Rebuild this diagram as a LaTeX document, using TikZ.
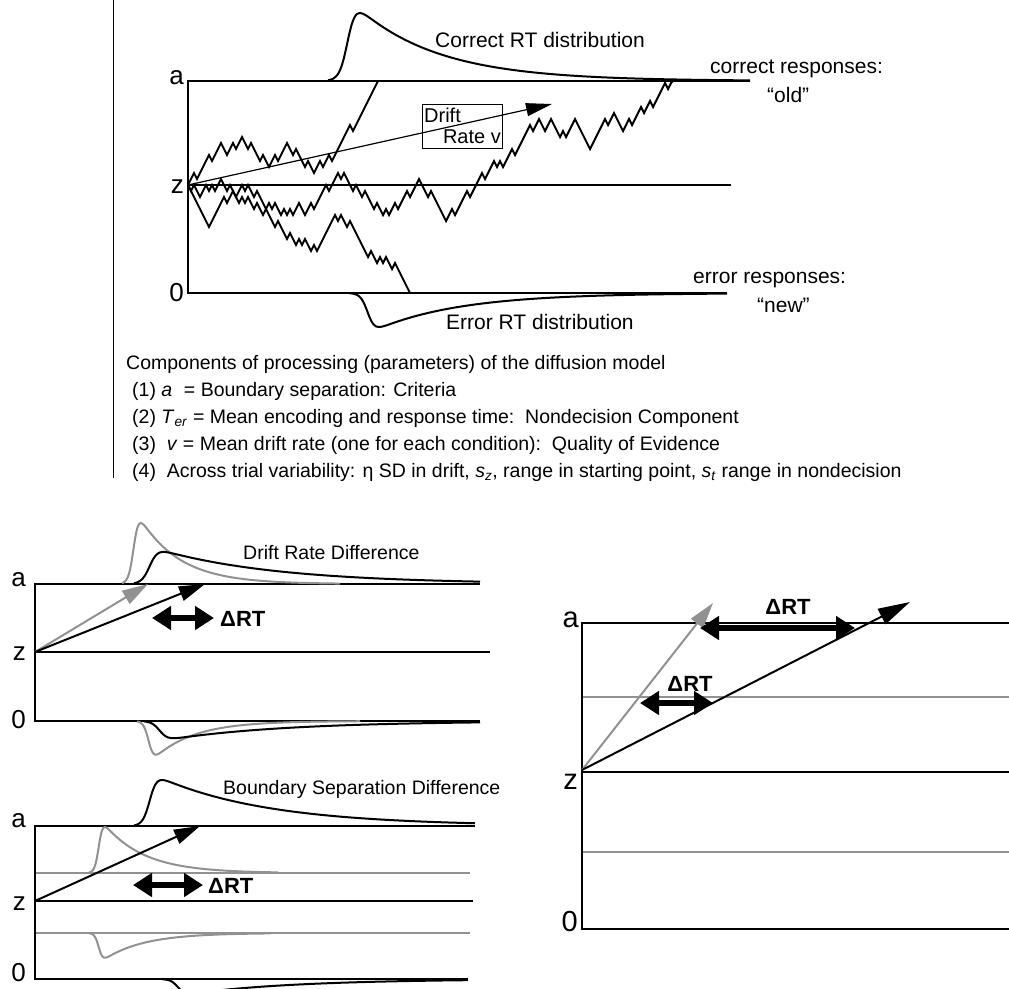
\documentclass[tikz,border=0pt]{standalone}
\usepackage{fontspec}
\setmainfont{Liberation Sans}
\usetikzlibrary{arrows.meta}
\definecolor{lgray}{RGB}{145,145,145}
\newcommand\rtdist[9][]{\draw[dist,#1] plot[domain=#8:#9,samples=160,smooth] (\x,{#3-(#4)*exp(-(\x-(#2))/(#7))/(1+exp(-(\x-(#2)-(#5))/(#6)))});}
\begin{document}
\begin{tikzpicture}[x=1pt,y=-1pt,
  bound/.style={line width=2pt},
  gline/.style={line width=2pt,draw=lgray},
  walk/.style={line width=2pt,line join=miter},
  dist/.style={line width=2pt},
  lbl/.style={inner sep=0pt,anchor=east,font=\fontsize{26}{26}\selectfont},
  rlbl/.style={inner sep=0pt,anchor=east,font=\fontsize{29}{29}\selectfont},
  ttxt/.style={inner sep=0pt,font=\fontsize{21}{24}\selectfont},
  btxt/.style={inner sep=0pt,anchor=base west,font=\fontsize{19.5}{22}\selectfont},
  ptxt/.style={inner sep=0pt,font=\fontsize{19.5}{22}\selectfont},
  drtxt/.style={inner sep=0pt,font=\fontsize{22}{22}\selectfont\bfseries},
  drt/.style={line width=5.5pt,{Triangle[length=19pt,width=23pt]}-{Triangle[length=19pt,width=23pt]}},
  varrow/.style={line width=2pt,-{Triangle[length=26pt,width=15pt]}},
  thinarrow/.style={line width=1.2pt,-{Triangle[length=26pt,width=13pt]}}]
\useasboundingbox (0,0) rectangle (1009,988);
\clip (0,0) rectangle (1009,988);

% ---------------- top diagram ----------------
\draw[line width=1pt] (113,0) -- (113,478);
\coordinate (ta) at (188,81);
\coordinate (tz) at (188,185);
\coordinate (t0) at (188,293);
\draw[bound] (750,81) -- (ta) -- (t0) -- (727,293);
\draw[bound] (tz) -- (731,185);
\node[lbl] (la) at (184,78) {a};
\node[lbl] (lz) at (184,187) {z};
\node[lbl] (l0) at (184,293) {0};

\rtdist{334}{81}{98}{14}{4}{82}{328}{750}
\rtdist{356}{293}{-46.5}{12}{3.5}{85}{350}{727}

\node[ttxt,anchor=base west] (crt) at (435,47) {Correct RT distribution};
\node[ttxt,anchor=base west] (ert) at (446,329) {Error RT distribution};
\node[ttxt,anchor=base west] (cr1) at (710,73) {correct responses:};
\node[ttxt,anchor=base west] (cr2) at (767,102) {“old”};
\node[ttxt,anchor=base west] (er1) at (693,283) {error responses:};
\node[ttxt,anchor=base west] (er2) at (757,312) {“new”};

% random walks
\draw[walk] (tz) \foreach \d in {-6,-6,6,-6,-6,-6,-6,6,-6,-6, -6,6,6,-6,-6,6,-6,-6, 6,6,-6,6,6,6,-6,6,6, -6,-6,6,-6,-6,-6, 6,6,-6,6,6,6,-6,6,6, -6,-6,6,-6,-6,6,-6,-6, -6,-6,-6,-6,6,-6,-6,-6,-6,-6,-6,-6} { -- ++(3,\d) } -- (378,81);
\draw[walk] (tz) \foreach \d in {6,-6,6,6,-6,-6,6,-6,6,-6,-6,6,6,-6,6,6,-6,-6,6,-6,6,6,-6,6, 6,6,-6,6,-6,6,6,-6,6,-6,6,-6, -6,6,6,-6,-6,6, -6,-6,-6,-6,6,-6,-6,-6, 6,-6,6,6,6,-6,6,6,-6,6,6,6,-6,6,6,-6,6, -6,-6,6,-6,-6,-6,6,-6,-6,-6,6, 6,6,-6,6,6,6,6,6, -6,-6,6,-6,-6,-6,-6,6,-6,-6, -6,-6,6,-6,-6,-6,6,-6,6,-6,-6,-6,6,-6,-6, -6,-6,-6,6,-6,-6,6,6,-6,-6,6,6,6,-6,6,-6,-6,-6,6,6,6,6,6,-6,-6,-6,-6,-6,6,-6,-6,6,6, 6,-6,-6,6,-6,-6,-6,6,-6,-6,6,-6,-6,-6,-6,6,-6} { -- ++(3,\d) } -- (673,81);
\draw[walk] (tz) \foreach \d in {6,6,6,6,6,6,6, -6,-6,-6,-6,-6, 6,-6,-6,6,6,-6,6,-6,6,6,-6, 6,6,-6,6,6,6,-6,6,6, 6,-6,6,6,-6,6,-6,6,6,-6,6, -6,-6,-6,-6,-6,-6, 6,-6,6,6,-6, 6,6,6,6,6, 6,-6,6,6,-6,6,-6,6,6, -6, 6,6,6,6,6} { -- ++(3,\d) };

\coordinate (tdrift) at (552,104);
\draw[thinarrow] (tz) -- (tdrift);
\node[draw,line width=1.2pt,fill=none,minimum width=80pt,minimum height=44pt,anchor=north west,inner sep=0pt] (box) at (422,104) {};
\node[ttxt,anchor=west,font=\fontsize{20}{20}\selectfont] (dr1) at (424,115) {Drift};
\node[ttxt,anchor=east,font=\fontsize{20}{20}\selectfont] (dr2) at (501,137) {Rate v};

% text block
\node[btxt] (c0) at (126,369) {Components of processing (parameters) of the diffusion model};
\node[btxt] (c1) at (132,396) {(1) \textit{a}\hspace{0.6em}= Boundary separation: Criteria};
\node[btxt] (c2) at (132,423) {(2) \textit{T}\textsubscript{\textit{er}} = Mean encoding and response time:\ \ Nondecision Component};
\node[btxt] (c3) at (132,450) {(3)\ \ \textit{v} = Mean drift rate (one for each condition):\ \ Quality of Evidence};
\node[btxt] (c4) at (132,477) {(4)\ \ Across trial variability: η SD in drift, \textit{s}\textsubscript{\textit{z}}, range in starting point, \textit{s}\textsubscript{\textit{t}} range in nondecision};

% ---------------- panel 1: drift rate difference ----------------
\coordinate (p1a) at (35,584);
\coordinate (p1z) at (35,652);
\coordinate (p10) at (35,721);
\draw[bound] (480,584) -- (p1a) -- (p10) -- (480,721);
\draw[bound] (p1z) -- (490,652);
\node[lbl] (p1la) at (26,580) {a};
\node[lbl] (p1lz) at (26,654) {z};
\node[lbl] (p1l0) at (26,720) {0};
\rtdist[draw=lgray]{126}{584}{94}{8}{2.5}{40}{122}{340}
\rtdist{138}{584}{41}{12}{4}{120}{134}{480}
\rtdist[draw=lgray]{141}{721}{-52}{8}{2.5}{40}{137}{360}
\rtdist{148}{721}{-22}{12}{4}{120}{144}{480}
\coordinate (p1g) at (148,584);
\coordinate (p1b) at (205,584);
\draw[varrow,draw=lgray,fill=lgray] (p1z) -- (p1g);
\draw[varrow] (p1z) -- (p1b);
\coordinate (d1l) at (152,618);
\coordinate (d1r) at (214,618);
\draw[drt] (d1l) -- (d1r);
\node[drtxt,anchor=west] (d1t) at (220,619) {ΔRT};
\node[ptxt,anchor=base west] (p1t) at (243,559) {Drift Rate Difference};

% ---------------- panel 2: boundary separation difference ----------------
\coordinate (p2a) at (35,826);
\coordinate (p2z) at (35,901);
\coordinate (p20) at (35,979);
\draw[gline] (35,873) -- (470,873);
\draw[gline] (35,933) -- (470,933);
\draw[bound] (475,826) -- (p2a) -- (p20) -- (468,979);
\draw[bound] (p2z) -- (473,901);
\node[lbl] (p2la) at (26,821) {a};
\node[lbl] (p2lz) at (26,904) {z};
\node[lbl] (p2l0) at (26,973) {0};
\rtdist{140}{826}{58}{10}{3.5}{110}{134}{475}
\rtdist[draw=lgray]{93}{873}{65}{6}{2}{40}{89}{278}
\rtdist[draw=lgray]{93}{933}{-35}{6}{2}{40}{89}{270}
\rtdist{168}{979}{-18}{10}{3.5}{110}{162}{468}
\coordinate (p2b) at (200,826);
\draw[varrow] (p2z) -- (p2b);
\coordinate (d2l) at (133,885);
\coordinate (d2r) at (203,885);
\draw[drt] (d2l) -- (d2r);
\node[drtxt,anchor=west] (d2t) at (208,886) {ΔRT};
\node[ptxt,anchor=base west] (p2t) at (223,794) {Boundary Separation Difference};

% ---------------- right panel ----------------
\coordinate (ra) at (582,623);
\coordinate (rz) at (582,772);
\coordinate (r0) at (582,929);
\draw[gline] (582,697) -- (1009,697);
\draw[gline] (582,852) -- (1009,852);
\draw[bound] (1009,623) -- (ra) -- (r0) -- (1009,929);
\draw[bound] (rz) -- (1009,772);
\node[rlbl] (rla) at (579,620) {a};
\node[rlbl] (rlz) at (578,782) {z};
\node[rlbl] (rl0) at (578,922) {0};
\coordinate (rs) at (582,770);
\coordinate (rg) at (713,603);
\coordinate (rb) at (910,602);
\draw[varrow,draw=lgray,fill=lgray,line width=2pt] (rs) -- (rg);
\draw[varrow,-{Triangle[length=32pt,width=17pt]}] (rs) -- (rb);
\coordinate (d3l) at (700,628);
\coordinate (d3r) at (855,628);
\draw[drt] (d3l) -- (d3r);
\node[drtxt] (d3t) at (788,607) {ΔRT};
\coordinate (d4l) at (640,703);
\coordinate (d4r) at (713,703);
\draw[drt] (d4l) -- (d4r);
\node[drtxt] (d4t) at (690,684) {ΔRT};
\end{tikzpicture}
\end{document}
